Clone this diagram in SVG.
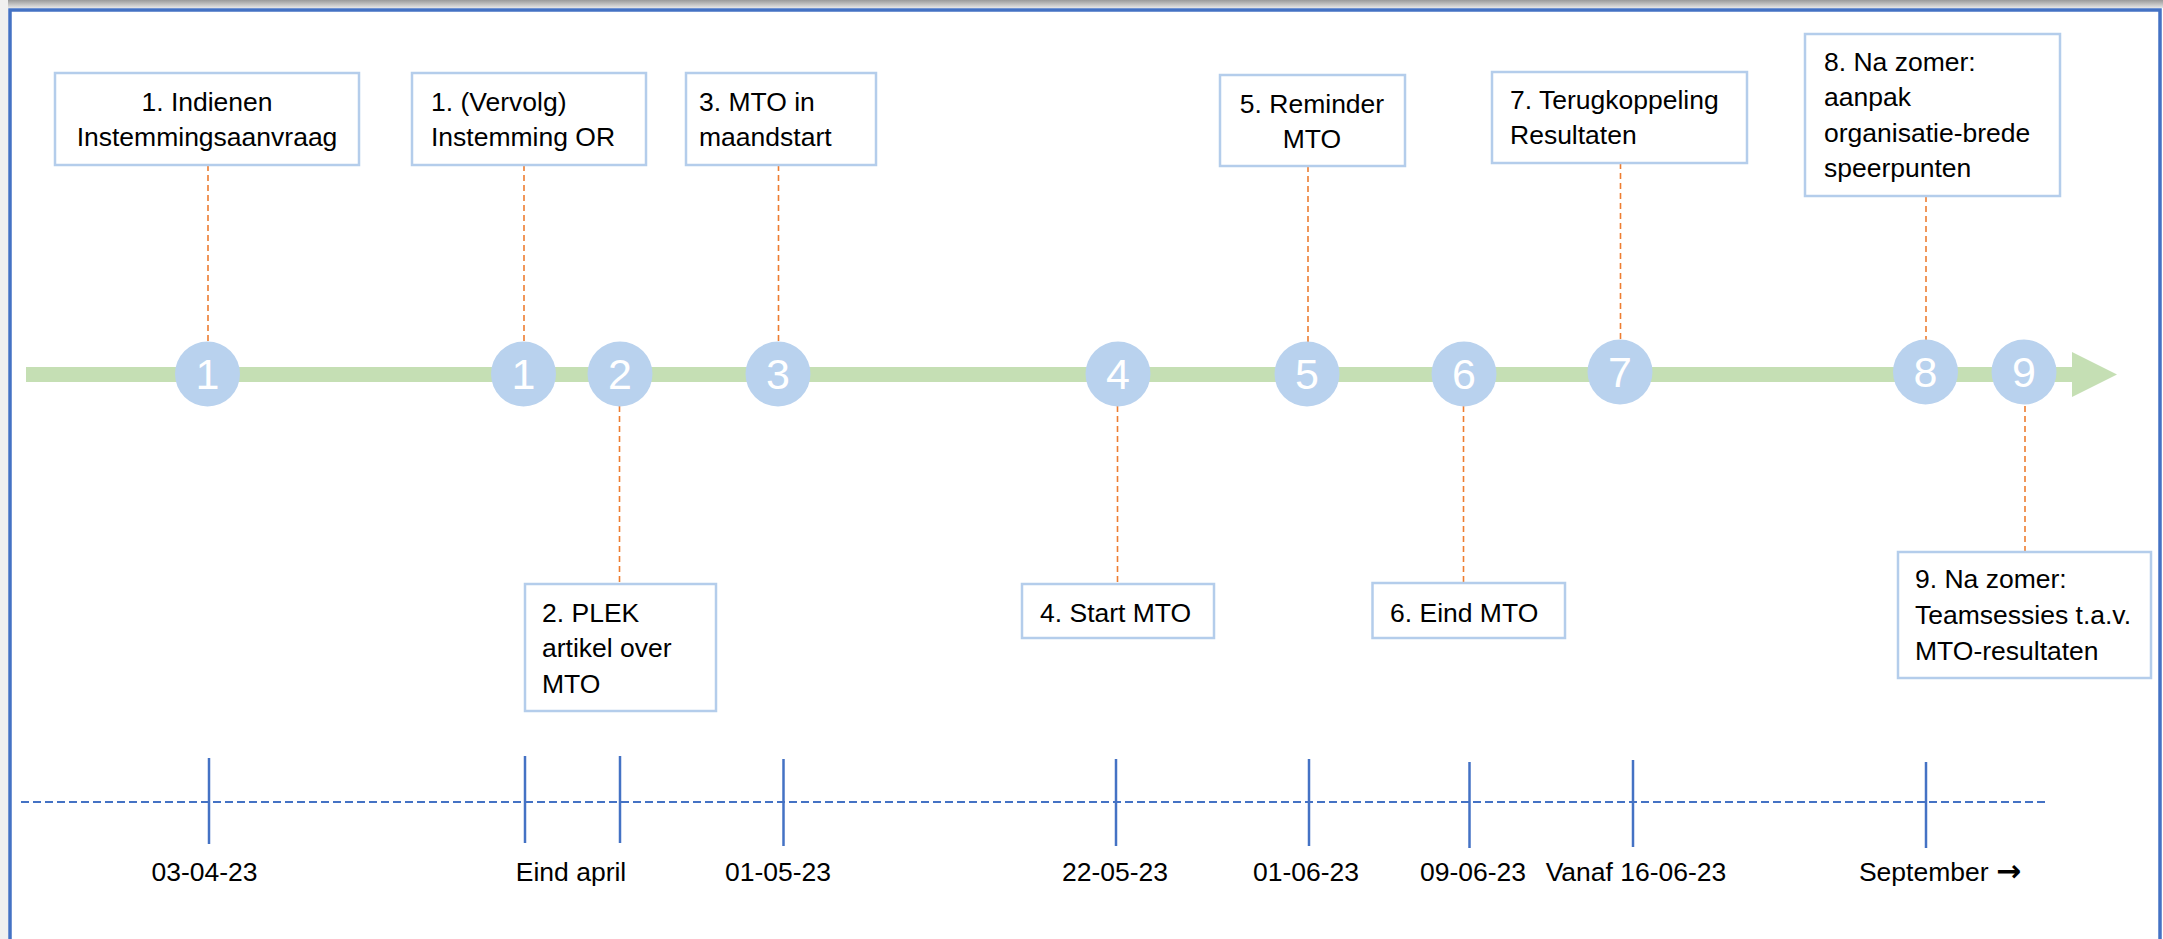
<svg xmlns="http://www.w3.org/2000/svg" width="2163" height="939" viewBox="0 0 2163 939">
<defs>
<linearGradient id="shadow" x1="0" y1="0" x2="0" y2="1">
<stop offset="0" stop-color="#9a9a9a"/>
<stop offset="1" stop-color="#e6e6e6"/>
</linearGradient>
<style>
.box{fill:#fff;stroke:#B4CDEB;stroke-width:2.5}
.t{font-family:"Liberation Sans",Arial,sans-serif;font-size:26.5px;fill:#000}
.c{text-anchor:middle}
.circ{fill:#B9D2EE}
.num{font-family:"Liberation Sans",Arial,sans-serif;font-size:43px;fill:#fff;text-anchor:middle}
.con{stroke:#ED7D31;stroke-width:1.6;stroke-dasharray:6 4;fill:none}
.tick{stroke:#4472C4;stroke-width:2.5}
.date{font-family:"Liberation Sans",Arial,sans-serif;font-size:26.5px;fill:#000;text-anchor:middle}
</style>
</defs>
<rect x="0" y="0" width="2163" height="939" fill="#fff"/>
<rect x="0" y="0" width="2163" height="8" fill="url(#shadow)"/>
<rect x="0" y="0" width="8" height="939" fill="#f0f0f0"/>
<rect x="10" y="10" width="2150" height="940" fill="none" stroke="#4472C4" stroke-width="3.5"/>

<g id="timeline">
<rect x="26" y="367" width="2048" height="15" fill="#C5DFB4"/>
<polygon points="2072,352 2117,374.5 2072,397" fill="#C5DFB4"/>
</g>

<g id="connectors">
<line class="con" x1="208" y1="165" x2="208" y2="342"/>
<line class="con" x1="524" y1="165" x2="524" y2="342"/>
<line class="con" x1="778.5" y1="165" x2="778.5" y2="342"/>
<line class="con" x1="1308" y1="166" x2="1308" y2="342"/>
<line class="con" x1="1620.5" y1="163" x2="1620.5" y2="341"/>
<line class="con" x1="1926" y1="196" x2="1926" y2="341"/>
<line class="con" x1="619.5" y1="406" x2="619.5" y2="584"/>
<line class="con" x1="1117.5" y1="406" x2="1117.5" y2="584"/>
<line class="con" x1="1463.5" y1="406" x2="1463.5" y2="583"/>
<line class="con" x1="2025" y1="406" x2="2025" y2="552"/>
</g>

<g id="markers">
<g id="m1a"><circle class="circ" cx="207.5" cy="374" r="32.5"/><text class="num" x="207.5" y="389">1</text></g>
<g id="m1b"><circle class="circ" cx="523.5" cy="374" r="32.5"/><text class="num" x="523.5" y="389">1</text></g>
<g id="m2"><circle class="circ" cx="620" cy="374" r="32.5"/><text class="num" x="620" y="389">2</text></g>
<g id="m3"><circle class="circ" cx="778" cy="374" r="32.5"/><text class="num" x="778" y="389">3</text></g>
<g id="m4"><circle class="circ" cx="1118" cy="374" r="32.5"/><text class="num" x="1118" y="389">4</text></g>
<g id="m5"><circle class="circ" cx="1307" cy="374" r="32.5"/><text class="num" x="1307" y="389">5</text></g>
<g id="m6"><circle class="circ" cx="1464" cy="374" r="32.5"/><text class="num" x="1464" y="389">6</text></g>
<g id="m7"><circle class="circ" cx="1620" cy="372" r="32.5"/><text class="num" x="1620" y="387">7</text></g>
<g id="m8"><circle class="circ" cx="1925.5" cy="372" r="32.5"/><text class="num" x="1925.5" y="387">8</text></g>
<g id="m9"><circle class="circ" cx="2024" cy="372" r="32.5"/><text class="num" x="2024" y="387">9</text></g>
</g>

<g id="box1">
<rect class="box" x="55" y="73" width="304" height="92"/>
<text class="t c" x="207" y="111">1. Indienen</text>
<text class="t c" x="207" y="146">Instemmingsaanvraag</text>
</g>
<g id="box1b">
<rect class="box" x="412" y="73" width="234" height="92"/>
<text class="t" x="431" y="111">1. (Vervolg)</text>
<text class="t" x="431" y="146">Instemming OR</text>
</g>
<g id="box3">
<rect class="box" x="686" y="73" width="190" height="92"/>
<text class="t" x="699" y="111">3. MTO in</text>
<text class="t" x="699" y="146">maandstart</text>
</g>
<g id="box5">
<rect class="box" x="1220" y="75" width="185" height="91"/>
<text class="t c" x="1312" y="113">5. Reminder</text>
<text class="t c" x="1312" y="148">MTO</text>
</g>
<g id="box7">
<rect class="box" x="1492" y="72" width="255" height="91"/>
<text class="t" x="1510" y="109">7. Terugkoppeling</text>
<text class="t" x="1510" y="144">Resultaten</text>
</g>
<g id="box8">
<rect class="box" x="1805" y="34" width="255" height="162"/>
<text class="t" x="1824" y="71">8. Na zomer:</text>
<text class="t" x="1824" y="106">aanpak</text>
<text class="t" x="1824" y="142">organisatie-brede</text>
<text class="t" x="1824" y="177">speerpunten</text>
</g>
<g id="box2">
<rect class="box" x="525" y="584" width="191" height="127"/>
<text class="t" x="542" y="622">2. PLEK</text>
<text class="t" x="542" y="657">artikel over</text>
<text class="t" x="542" y="693">MTO</text>
</g>
<g id="box4">
<rect class="box" x="1022" y="584" width="192" height="54"/>
<text class="t" x="1040" y="622">4. Start MTO</text>
</g>
<g id="box6">
<rect class="box" x="1372.5" y="583" width="192.5" height="55"/>
<text class="t" x="1390" y="622">6. Eind MTO</text>
</g>
<g id="box9">
<rect class="box" x="1898" y="552" width="253" height="126"/>
<text class="t" x="1915" y="588">9. Na zomer:</text>
<text class="t" x="1915" y="624">Teamsessies t.a.v.</text>
<text class="t" x="1915" y="660">MTO-resultaten</text>
</g>

<g id="datescale">
<line x1="21" y1="802" x2="2046" y2="802" stroke="#4472C4" stroke-width="2" stroke-dasharray="8 4"/>
<line class="tick" x1="209" y1="758" x2="209" y2="844"/>
<line class="tick" x1="525" y1="756" x2="525" y2="843"/>
<line class="tick" x1="620" y1="756" x2="620" y2="843"/>
<line class="tick" x1="783.5" y1="759" x2="783.5" y2="846"/>
<line class="tick" x1="1116" y1="759" x2="1116" y2="846"/>
<line class="tick" x1="1309" y1="759" x2="1309" y2="846"/>
<line class="tick" x1="1469.5" y1="762" x2="1469.5" y2="848"/>
<line class="tick" x1="1633" y1="760" x2="1633" y2="847"/>
<line class="tick" x1="1926" y1="762" x2="1926" y2="848"/>
<text class="date" x="204.5" y="881">03-04-23</text>
<text class="date" x="571" y="881">Eind april</text>
<text class="date" x="778" y="881">01-05-23</text>
<text class="date" x="1115" y="881">22-05-23</text>
<text class="date" x="1306" y="881">01-06-23</text>
<text class="date" x="1473" y="881">09-06-23</text>
<text class="date" x="1636" y="881">Vanaf 16-06-23</text>
<text class="date" x="1940" y="881">September <tspan font-family="'DejaVu Sans',sans-serif" font-weight="bold" font-size="30px">→</tspan></text>
</g>
</svg>
